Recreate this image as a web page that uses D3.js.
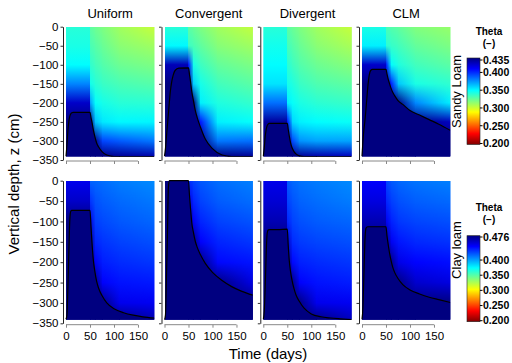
<!DOCTYPE html>
<html><head><meta charset="utf-8">
<script src="https://cdn.jsdelivr.net/npm/d3@7"></script>
<style>
html,body{margin:0;padding:0;background:#fff;}
svg{display:block;font-family:"Liberation Sans",Arial,Helvetica,sans-serif;}
</style></head><body>
<svg id="chart" width="512" height="363"></svg>
<script>
// ---------------- data ----------------
const scenarios = ["Uniform", "Convergent", "Divergent", "CLM"];
const soils = ["Sandy Loam", "Clay loam"];
const thetaMax = [0.435, 0.476];
const thetaMin = [0.200, 0.200];
const cbTicksSandy = [0.435, 0.400, 0.350, 0.300, 0.250, 0.200];
const cbTicksClay = [0.476, 0.400, 0.350, 0.300, 0.250, 0.200];
const depthTicks = [0, -50, -100, -150, -200, -250, -300, -350];
const timeTicks = [0, 50, 100, 150];

// depth levels (cm) at which theta profiles are read
const depthLevels = [0, -50, -100, -150, -200, -250, -300, -341];
// wet (recharge, 0-50 d) profile, then dry profiles at these times (d)
const dryTimes = [50, 60, 75, 110, 184];

// Sandy loam theta profiles
const uniformSandyWet = [0.338, 0.341, 0.347, 0.375, 0.418, 0.435, 0.435, 0.435];
const uniformSandyDry = [
  [0.326, 0.330, 0.336, 0.343, 0.370, 0.435, 0.435, 0.435],
  [0.322, 0.327, 0.332, 0.338, 0.346, 0.362, 0.435, 0.435],
  [0.318, 0.323, 0.328, 0.334, 0.342, 0.352, 0.390, 0.435],
  [0.310, 0.315, 0.322, 0.330, 0.338, 0.348, 0.385, 0.430],
  [0.301, 0.310, 0.318, 0.327, 0.337, 0.349, 0.378, 0.425]];
const convergentSandyWet = [0.338, 0.348, 0.422, 0.435, 0.435, 0.435, 0.435, 0.435];
const convergentSandyDry = [
  [0.326, 0.333, 0.400, 0.435, 0.435, 0.435, 0.435, 0.435],
  [0.323, 0.330, 0.342, 0.358, 0.435, 0.435, 0.435, 0.435],
  [0.318, 0.325, 0.333, 0.342, 0.350, 0.400, 0.435, 0.435],
  [0.310, 0.316, 0.324, 0.332, 0.340, 0.350, 0.378, 0.435],
  [0.302, 0.310, 0.318, 0.326, 0.335, 0.346, 0.380, 0.430]];
const divergentSandyWet = [0.338, 0.343, 0.347, 0.353, 0.380, 0.428, 0.435, 0.435];
const divergentSandyDry = [
  [0.326, 0.331, 0.337, 0.342, 0.350, 0.400, 0.435, 0.435],
  [0.323, 0.328, 0.333, 0.340, 0.346, 0.356, 0.390, 0.435],
  [0.318, 0.323, 0.328, 0.334, 0.341, 0.350, 0.372, 0.430],
  [0.310, 0.315, 0.322, 0.329, 0.337, 0.347, 0.368, 0.425],
  [0.301, 0.308, 0.316, 0.325, 0.334, 0.345, 0.368, 0.420]];
const clmSandyWet = [0.341, 0.350, 0.418, 0.435, 0.435, 0.435, 0.435, 0.435];
const clmSandyDry = [
  [0.330, 0.337, 0.400, 0.435, 0.435, 0.435, 0.435, 0.435],
  [0.328, 0.335, 0.347, 0.400, 0.435, 0.435, 0.435, 0.435],
  [0.325, 0.332, 0.340, 0.360, 0.435, 0.435, 0.435, 0.435],
  [0.317, 0.324, 0.332, 0.341, 0.375, 0.435, 0.435, 0.435],
  [0.312, 0.318, 0.326, 0.336, 0.350, 0.420, 0.435, 0.435]];

// Clay loam theta profiles
const uniformClayWet = [0.446, 0.456, 0.476, 0.476, 0.476, 0.476, 0.476, 0.476];
const uniformClayDry = [
  [0.415, 0.428, 0.450, 0.476, 0.476, 0.476, 0.476, 0.476],
  [0.414, 0.420, 0.425, 0.432, 0.445, 0.476, 0.476, 0.476],
  [0.412, 0.417, 0.422, 0.428, 0.434, 0.442, 0.476, 0.476],
  [0.408, 0.413, 0.418, 0.424, 0.430, 0.437, 0.446, 0.476],
  [0.404, 0.409, 0.414, 0.420, 0.427, 0.435, 0.445, 0.462]];
const convergentClayWet = [0.476, 0.476, 0.476, 0.476, 0.476, 0.476, 0.476, 0.476];
const convergentClayDry = [
  [0.430, 0.450, 0.476, 0.476, 0.476, 0.476, 0.476, 0.476],
  [0.424, 0.432, 0.445, 0.476, 0.476, 0.476, 0.476, 0.476],
  [0.418, 0.424, 0.432, 0.442, 0.476, 0.476, 0.476, 0.476],
  [0.412, 0.417, 0.424, 0.432, 0.440, 0.476, 0.476, 0.476],
  [0.407, 0.412, 0.419, 0.427, 0.436, 0.448, 0.476, 0.476]];
const divergentClayWet = [0.447, 0.453, 0.462, 0.476, 0.476, 0.476, 0.476, 0.476];
const divergentClayDry = [
  [0.418, 0.424, 0.432, 0.455, 0.476, 0.476, 0.476, 0.476],
  [0.414, 0.419, 0.424, 0.430, 0.440, 0.476, 0.476, 0.476],
  [0.411, 0.415, 0.420, 0.426, 0.433, 0.442, 0.476, 0.476],
  [0.408, 0.412, 0.417, 0.423, 0.430, 0.437, 0.446, 0.476],
  [0.404, 0.408, 0.414, 0.420, 0.427, 0.434, 0.445, 0.458]];
const clmClayWet = [0.442, 0.450, 0.462, 0.476, 0.476, 0.476, 0.476, 0.476];
const clmClayDry = [
  [0.424, 0.432, 0.445, 0.476, 0.476, 0.476, 0.476, 0.476],
  [0.418, 0.425, 0.433, 0.445, 0.476, 0.476, 0.476, 0.476],
  [0.414, 0.420, 0.427, 0.436, 0.448, 0.476, 0.476, 0.476],
  [0.410, 0.416, 0.423, 0.431, 0.441, 0.455, 0.476, 0.476],
  [0.407, 0.413, 0.420, 0.428, 0.438, 0.450, 0.476, 0.476]];

// water table depth (black line), cm, at these times (d)
const wtTimes = [0, 2, 4, 6, 8, 10, 12, 15, 18, 22, 30, 50, 52, 54, 57, 60, 64, 68, 75, 85, 100, 120, 140, 160, 184];
const wtUniformSandy    = [-340,-310,-272,-248,-235,-229,-226,-225,-225,-225,-225,-225,-238,-250,-271,-288,-306,-316,-328,-337,-341,-341,-341,-341,-341];
const wtConvergentSandy = [-340,-320,-290,-260,-230,-200,-172,-145,-128,-115,-109,-108,-125,-142,-172,-192,-219,-238,-264,-295,-320,-337,-341,-341,-341];
const wtDivergentSandy  = [-340,-318,-288,-270,-260,-256,-254,-254,-254,-254,-254,-254,-270,-286,-306,-318,-328,-334,-339,-341,-341,-341,-341,-341,-341];
const wtCLMSandy        = [-340,-300,-270,-248,-220,-190,-160,-128,-115,-112,-112,-112,-124,-135,-148,-160,-172,-181,-194,-204,-220,-232,-244,-256,-272];
const wtUniformClay     = [-340,-330,-260,-170,-95,-75,-73,-73,-73,-73,-73,-73,-110,-150,-195,-222,-248,-264,-282,-300,-314,-324,-330,-334,-337];
const wtConvergentClay  = [-341,-330,-240,-140,-20,0,0,0,0,0,0,0,-35,-65,-105,-125,-148,-163,-182,-203,-225,-245,-260,-271,-281];
const wtDivergentClay   = [-340,-320,-260,-180,-130,-121,-120,-120,-120,-120,-120,-119,-160,-195,-225,-245,-265,-280,-296,-313,-327,-334,-337,-339,-341];
const wtCLMClay         = [-340,-310,-230,-150,-118,-114,-113,-113,-113,-113,-113,-113,-135,-152,-175,-193,-212,-225,-240,-255,-268,-278,-286,-292,-299];

const wetProfiles = [[uniformSandyWet, convergentSandyWet, divergentSandyWet, clmSandyWet],
                     [uniformClayWet, convergentClayWet, divergentClayWet, clmClayWet]];
const dryProfiles = [[uniformSandyDry, convergentSandyDry, divergentSandyDry, clmSandyDry],
                     [uniformClayDry, convergentClayDry, divergentClayDry, clmClayDry]];
const waterTables = [[wtUniformSandy, wtConvergentSandy, wtDivergentSandy, wtCLMSandy],
                     [wtUniformClay, wtConvergentClay, wtDivergentClay, wtCLMClay]];
const cbTicks = [cbTicksSandy, cbTicksClay];

// ---------------- drawing ----------------
const svg = d3.select("#chart");
const defs = svg.append("defs");
const clamp01 = v => Math.max(0, Math.min(1, v));
function jet(t) {
  const r = clamp01(1.5 - Math.abs(4 * t - 3));
  const g = clamp01(1.5 - Math.abs(4 * t - 2));
  const b = clamp01(1.5 - Math.abs(4 * t - 1));
  return d3.rgb(r * 255, g * 255, b * 255).formatHex();
}

const fade = defs.append("linearGradient").attr("id", "hfade")
  .attr("x1", 0).attr("x2", 1).attr("y1", 0).attr("y2", 0);
fade.append("stop").attr("offset", 0).attr("stop-color", "#000");
fade.append("stop").attr("offset", 1).attr("stop-color", "#fff");
defs.append("mask").attr("id", "fadeMask").attr("maskContentUnits", "objectBoundingBox")
  .append("rect").attr("x", 0).attr("y", 0).attr("width", 1).attr("height", 1).attr("fill", "url(#hfade)");

const panelLeft = [66, 164.5, 263.3, 362];
const panelW = 88.3;
const rowY0 = [26.7, 180.7];
const rowY350 = [160, 323.3];
const xAxisY = [161, 324.7];
const timeMax = 184, depthBottom = -341;

for (let r = 0; r < 2; r++) {
  const tnorm = d3.scaleLinear().domain([thetaMax[r], thetaMin[r]]).range([0, 1]).clamp(true);
  const color = v => jet(tnorm(v));
  for (let c = 0; c < 4; c++) {
    const L = panelLeft[c];
    const x = d3.scaleLinear().domain([0, timeMax]).range([L, L + panelW]);
    const y = d3.scaleLinear().domain([0, -350]).range([rowY0[r], rowY350[r]]);
    const ytop = y(0), ybot = y(depthBottom);
    const id = `p${r}${c}`;

    function makeGrad(gid, profile) {
      const g = defs.append("linearGradient").attr("id", gid)
        .attr("x1", 0).attr("y1", 0).attr("x2", 0).attr("y2", 1);
      depthLevels.forEach((z, i) => {
        g.append("stop").attr("offset", (y(z) - ytop) / (ybot - ytop)).attr("stop-color", color(profile[i]));
      });
    }
    makeGrad(`${id}-wet`, wetProfiles[r][c]);
    dryProfiles[r][c].forEach((p, i) => makeGrad(`${id}-dry${i}`, p));

    defs.append("clipPath").attr("id", `${id}-clip`).append("rect")
      .attr("x", x(0)).attr("y", ytop).attr("width", x(timeMax) - x(0)).attr("height", ybot - ytop);
    defs.append("clipPath").attr("id", `${id}-lclip`).append("rect")
      .attr("x", x(0) - 1).attr("y", ytop - 1).attr("width", x(timeMax) - x(0) + 1).attr("height", ybot - ytop + 1.3);

    const g = svg.append("g").attr("clip-path", `url(#${id}-clip)`);
    const cell = g.append("g").attr("shape-rendering", "crispEdges");
    cell.append("rect").attr("x", x(0)).attr("y", ytop).attr("width", x(50) - x(0) + 1)
      .attr("height", ybot - ytop).attr("fill", `url(#${id}-wet)`);
    for (let i = 0; i < dryTimes.length - 1; i++) {
      const x0 = x(dryTimes[i]), x1 = x(dryTimes[i + 1]);
      cell.append("rect").attr("x", x0).attr("y", ytop).attr("width", x1 - x0 + 1)
        .attr("height", ybot - ytop).attr("fill", `url(#${id}-dry${i})`);
      cell.append("rect").attr("x", x0).attr("y", ytop).attr("width", x1 - x0 + 1)
        .attr("height", ybot - ytop).attr("fill", `url(#${id}-dry${i + 1})`)
        .attr("mask", "url(#fadeMask)");
    }
    const wt = waterTables[r][c];
    const pts = wtTimes.map((t, i) => [t, wt[i]]);
    g.append("path").datum(pts)
      .attr("d", d3.area().x(d => x(d[0])).y0(ybot + 1).y1(d => y(d[1])).curve(d3.curveMonotoneX))
      .attr("fill", color(thetaMax[r]));
    svg.append("g").attr("clip-path", `url(#${id}-lclip)`).append("path").datum(pts)
      .attr("d", d3.line().x(d => x(d[0])).y(d => y(d[1])).curve(d3.curveMonotoneX))
      .attr("fill", "none").attr("stroke", "#000").attr("stroke-width", 1.2);

    // y axis
    const ya = svg.append("g").attr("transform", `translate(${L - 3},0)`)
      .call(d3.axisLeft(y).tickValues(depthTicks).tickSize(2.5).tickSizeOuter(0).tickPadding(2)
        .tickFormat(c === 0 ? d3.format("d") : () => ""));
    ya.select(".domain").attr("stroke", "#222");
    ya.selectAll(".tick line").attr("stroke", "#333");
    ya.selectAll("text").attr("font-size", 11.5).attr("fill", "#000")
      .attr("font-family", '"Liberation Sans",Arial,sans-serif');

    // x axis
    const xa = svg.append("g").attr("transform", `translate(0,${xAxisY[r]})`)
      .call(d3.axisBottom(x).tickValues(timeTicks).tickSize(3).tickSizeOuter(0).tickPadding(4)
        .tickFormat(r === 1 ? d3.format("d") : () => ""));
    xa.select(".domain").remove();
    xa.append("line").attr("x1", x(0)).attr("x2", x(150)).attr("y1", 0).attr("y2", 0)
      .attr("stroke", "#888");
    xa.selectAll(".tick line").attr("stroke", "#888");
    xa.selectAll("text").attr("font-size", 11.5).attr("fill", "#000")
      .attr("font-family", '"Liberation Sans",Arial,sans-serif');

    if (r === 0) {
      svg.append("text").attr("x", L + panelW / 2).attr("y", 18).attr("text-anchor", "middle")
        .attr("font-size", 13).text(scenarios[c]);
    }
  }

  // colour bar
  const cbTop = r === 0 ? 58 : 235.7, cbBot = r === 0 ? 144.5 : 321.7;
  const cy = d3.scaleLinear().domain([thetaMax[r], thetaMin[r]])
    .range(r === 0 ? [60, 143.5] : [237, 320.7]);
  const cg = defs.append("linearGradient").attr("id", `cb${r}`)
    .attr("x1", 0).attr("y1", 0).attr("x2", 0).attr("y2", 1);
  [0, 0.125, 0.375, 0.625, 0.875, 1].forEach(t => {
    cg.append("stop").attr("offset", t).attr("stop-color", jet(t));
  });
  svg.append("rect").attr("x", 467).attr("y", cbTop).attr("width", 13).attr("height", cbBot - cbTop)
    .attr("fill", `url(#cb${r})`).attr("stroke", "#222").attr("stroke-width", 0.6);
  const cbg = svg.append("g");
  cbTicks[r].forEach(v => {
    cbg.append("line").attr("x1", 480).attr("x2", 482.5).attr("y1", cy(v)).attr("y2", cy(v))
      .attr("stroke", "#000").attr("stroke-width", 1);
    cbg.append("text").attr("x", 483).attr("y", cy(v)).attr("dy", "0.36em")
      .attr("font-size", 10.5).attr("font-weight", "bold").text(d3.format(".3f")(v));
  });
  const thY = r === 0 ? 35 : 211;
  svg.append("text").attr("x", 489).attr("y", thY).attr("text-anchor", "middle")
    .attr("font-size", 10).attr("font-weight", "bold").text("Theta");
  svg.append("text").attr("x", 489).attr("y", thY + 11.5).attr("text-anchor", "middle")
    .attr("font-size", 10).attr("font-weight", "bold").text("(\u2212)");
  const sy = r === 0 ? 91.5 : 250;
  svg.append("text").attr("transform", `translate(461,${sy}) rotate(-90)`)
    .attr("text-anchor", "middle").attr("font-size", 13).text(soils[r]);
}

svg.append("text").attr("transform", "translate(19,184) rotate(-90)")
  .attr("text-anchor", "middle").attr("font-size", 15).text("Vertical depth, z (cm)");
svg.append("text").attr("x", 268).attr("y", 359).attr("text-anchor", "middle")
  .attr("font-size", 15).text("Time (days)");
</script>
</body></html>
